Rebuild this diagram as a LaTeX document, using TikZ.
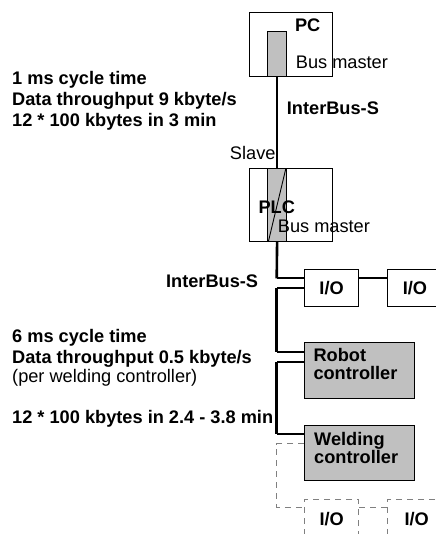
\documentclass[tikz,border=0pt]{standalone}
\usepackage{fontspec}
\setmainfont{Liberation Sans}
\begin{document}
\begin{tikzpicture}[x=1bp,y=-1bp,
  every node/.style={font=\fontsize{18.2bp}{18.3bp}\selectfont},
  box/.style={draw=black, line width=0.9bp, inner sep=0pt, anchor=north west},
  grey/.style={box, fill=barfill},
  dbox/.style={draw=dashgrey, line width=0.9bp, dash pattern=on 6bp off 5bp, inner sep=0pt, anchor=north west},
  bus/.style={line width=2.6bp},
  tap/.style={line width=2bp},
  dline/.style={draw=dashgrey, line width=0.9bp, dash pattern=on 6bp off 5bp},
  btxt/.style={font=\fontsize{18.2bp}{18.3bp}\selectfont\bfseries, inner sep=0pt},
  rtxt/.style={font=\fontsize{18.2bp}{18.3bp}\selectfont, inner sep=0pt},
]
\definecolor{barfill}{RGB}{192,192,192}
\definecolor{dashgrey}{RGB}{128,128,128}
\useasboundingbox (0,0) rectangle (436,534);
\clip (0,0) rectangle (436,534);
\fill[white] (0,0) rectangle (436,534);

% PC
\node[box, minimum width=82.7bp, minimum height=64bp] (pc) at (249,12) {};
\node[grey, minimum width=18.7bp, minimum height=45bp] (pcbar) at (267.3,31) {};
\node[btxt] (pclbl) at (307.7,25) {PC};
\node[rtxt, anchor=west] (pcbm) at (295.7,62) {Bus master};

% PLC
\node[box, minimum width=82.4bp, minimum height=72.7bp] (plc) at (249.3,168.3) {};
\node[grey, minimum width=18.7bp, minimum height=72.7bp] (plcbar) at (267.3,168.3) {};
\draw[line width=0.9bp] ([xshift=1bp]plcbar.south west) -- ([xshift=-1bp]plcbar.north east);
\node[btxt] (plclbl) at (276.7,207.3) {PLC};
\node[rtxt, anchor=west] (plcbm) at (277.7,226.7) {Bus master};
\node[rtxt, anchor=east] (slave) at (275.7,152.7) {Slave};

% I/O modules
\node[box, minimum width=54.3bp, minimum height=36.7bp, btxt] (io1) at (304,269) {I/O};
\node[box, minimum width=54.3bp, minimum height=36.7bp, btxt] (io2) at (387.3,269) {I/O};

% controllers
\node[grey, minimum width=110.3bp, minimum height=55.4bp] (robot) at (304,342.3) {};
\node[btxt, anchor=west, align=left] (robotlbl) at (313.3,364) {Robot\\controller};
\node[grey, minimum width=110.3bp, minimum height=55bp] (weld) at (304,425) {};
\node[btxt, anchor=west, align=left] (weldlbl) at (314,448) {Welding\\controller};

% dashed I/O modules
\node[dbox, minimum width=54.3bp, minimum height=60bp] (io3) at (304,499.3) {};
\node[dbox, minimum width=60bp, minimum height=60bp] (io4) at (386.7,499.3) {};
\node[btxt] (io3lbl) at (331.7,519.5) {I/O};
\node[btxt] (io4lbl) at (416.7,519.5) {I/O};

% bus coordinates
\coordinate (c1) at (276.7,278.3);
\coordinate (c2) at (276.7,287.5);
\coordinate (c3) at (276.7,352.3);
\coordinate (c4) at (276.7,361.7);
\coordinate (c5) at (276.7,434);
\coordinate (d1) at (276.7,443.7);
\coordinate (d2) at (276.7,507.3);

\draw[bus] (pcbar.south) -- (plcbar.north);
\draw[bus] (plcbar.south) -- (c1);
\draw[tap] (c1) -- (io1.west |- c1);
\draw[tap] (io1.west |- c2) -- (c2);
\draw[bus] (c2) -- (c3);
\draw[tap] (c3) -- (robot.west |- c3);
\draw[tap] (robot.west |- c4) -- (c4);
\draw[bus] (c4) -- (c5);
\draw[tap] (c5) -- (weld.west |- c5);
\draw[tap] (io1.east |- c1) -- (io2.west |- c1);
\draw[dline] (weld.west |- d1) -- (d1) -- (d2) -- (io3.west |- d2);
\draw[dline] (io3.east |- d2) -- (io4.west |- d2);

% labels
\node[btxt, anchor=west] (ib1) at (286.7,108) {InterBus-S};
\node[btxt, anchor=east] (ib2) at (258.3,281.7) {InterBus-S};
\node[btxt, anchor=west] (t1) at (12,80) {1 ms cycle time};
\node[btxt, anchor=west] (t2) at (12,100.7) {Data throughput 9 kbyte/s};
\node[btxt, anchor=west] (t3) at (12,121.7) {12 * 100 kbytes in 3 min};
\node[btxt, anchor=west] (t4) at (12,337.3) {6 ms cycle time};
\node[btxt, anchor=west] (t5) at (12,359) {Data throughput 0.5 kbyte/s};
\node[rtxt, anchor=west] (t6) at (12,377.3) {(per welding controller)};
\node[btxt, anchor=west] (t7) at (12,418.3) {12 * 100 kbytes in 2.4 - 3.8 min};
\end{tikzpicture}
\end{document}
